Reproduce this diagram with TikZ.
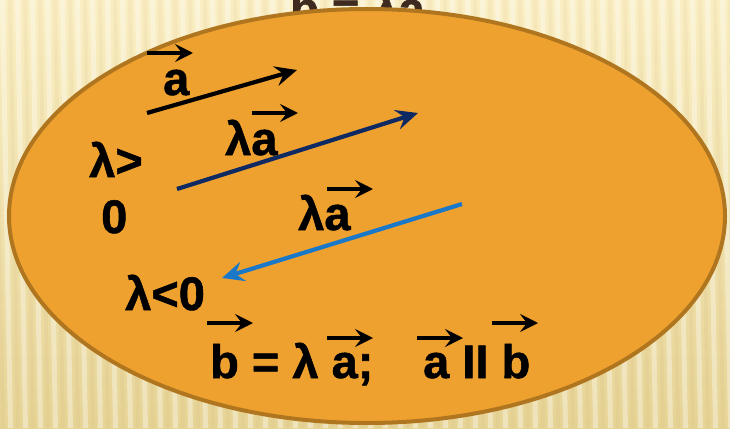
\documentclass[tikz,border=0pt]{standalone}
\usepackage{fontspec}
\setmainfont{Liberation Sans}[BoldFeatures={FakeBold=1.2}]
\usetikzlibrary{arrows.meta}
\definecolor{ovalc}{HTML}{EFA12F}
\definecolor{rimc}{HTML}{B0761F}
\definecolor{navyc}{HTML}{0F2A62}
\definecolor{bluec}{HTML}{1A78C8}
\definecolor{brownc}{HTML}{3F2A20}
\definecolor{paleA}{HTML}{FAEFC4}
\definecolor{paleB}{HTML}{E6D496}
\begin{document}
\begin{tikzpicture}[x=1pt, y=-1pt,
  lab/.style={anchor=base west, inner sep=0pt, font=\fontsize{47}{50}\selectfont\bfseries},
  vec/.style={-{Stealth[length=18pt, width=18pt, inset=7pt]}, line width=3.6pt},
  arr/.style={-{Stealth[length=22pt, width=20pt, inset=8pt]}, line width=4.2pt}]
\useasboundingbox (0,0) rectangle (730,428);
\clip (0,0) rectangle (730,428);
% background with stripes
\shade[top color=paleA, bottom color=paleB] (0,0) rectangle (730,428);
\foreach \i in {-2,...,50}{
  \fill[white, opacity=0.35] (\i*15,0) -- ++(5,0) -- ++(8,428) -- ++(-5,0) -- cycle;
  \fill[brown, opacity=0.06] (\i*15+8,0) -- ++(4,0) -- ++(8,428) -- ++(-4,0) -- cycle;
}
\node[lab, text=brownc] (top) at (290,25) {b = λa};
\draw[line width=4pt, draw=rimc, fill=ovalc] (367,216) ellipse [x radius=358, y radius=207];
% labels
\node[lab] (va) at (163,95) {a};
\node[lab] (la1) at (225,155) {λa};
\node[lab] (gt) at (89,177) {λ>};
\node[lab] (zero) at (101,233) {0};
\node[lab] (la2) at (298,230) {λa};
\node[lab] (lt) at (125,310) {λ<0};
\node[lab] (eqn) at (210,378) {b = λ a;};
\node[lab] (par) at (423,378) {a II b};
\foreach \x/\y in {147/53, 252/113, 327/189, 207/323, 327/338, 417/338, 492/323}
  \draw[vec] (\x,\y) -- ++(46,0);
% vectors
\coordinate (a0) at (147,113);
\coordinate (a1) at (297,70);
\coordinate (b0) at (177,189);
\coordinate (b1) at (418,113);
\coordinate (c0) at (462,204);
\coordinate (c1) at (222,278);
\draw[arr] (a0) -- (a1);
\draw[arr, navyc] (b0) -- (b1);
\draw[arr, bluec] (c0) -- (c1);
\end{tikzpicture}
\end{document}
